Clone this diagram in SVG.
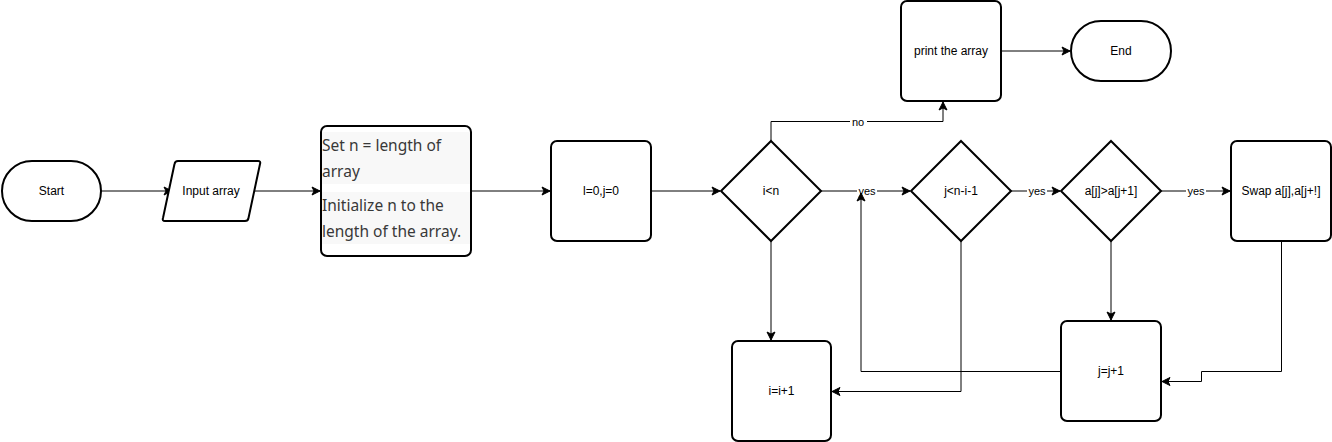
<svg xmlns="http://www.w3.org/2000/svg" width="1332" height="442" viewBox="0 0 1332 442">
<style>
.n{fill:#fff;stroke:#000;stroke-width:2}
.t{font-family:"Liberation Sans",Arial,sans-serif;font-size:12px;fill:#000;text-anchor:middle;dominant-baseline:central}
.e{fill:none;stroke:#000;stroke-width:1}
.lb{font-family:"Liberation Sans",Arial,sans-serif;font-size:11px;fill:#000;text-anchor:middle;dominant-baseline:central}
.lbg{fill:#fff}
.rt{font-family:"Noto Sans","Segoe UI",sans-serif;font-size:15.5px;fill:#383838}
.hl{fill:#f8f8f8}
</style>
<defs>
<marker id="a" markerUnits="userSpaceOnUse" markerWidth="10" markerHeight="10" viewBox="0 0 10 10" refX="9" refY="5" orient="auto">
<path d="M1,1 L9,5 L1,9 L3,5 z" fill="#000" stroke="#000" stroke-width="1"/>
</marker>
</defs>
<rect width="1332" height="442" fill="#fff"/>
<g id="connectors">
<path class="e" d="M101,191 H172" marker-end="url(#a)"/>
<path class="e" d="M247,191 H320" marker-end="url(#a)"/>
<path class="e" d="M471,191 H550" marker-end="url(#a)"/>
<path class="e" d="M651,191 H720" marker-end="url(#a)"/>
<path class="e" d="M771,141 V121.5 H943 V102" marker-end="url(#a)"/>
<path class="e" d="M1001,51 H1070" marker-end="url(#a)"/>
<path class="e" d="M821,191 H910" marker-end="url(#a)"/>
<path class="e" d="M1011,191 H1060" marker-end="url(#a)"/>
<path class="e" d="M1161,191 H1230" marker-end="url(#a)"/>
<path class="e" d="M771,241 V340" marker-end="url(#a)"/>
<path class="e" d="M961,241 V391.5 H832" marker-end="url(#a)"/>
<path class="e" d="M1111,241 V320" marker-end="url(#a)"/>
<path class="e" d="M1281.5,241 V371.5 H1201.5 V381.5 H1162" marker-end="url(#a)"/>
<rect class="lbg" x="850" y="115" width="17" height="13"/>
<text class="lb" x="858" y="121.5">no</text>
<rect class="lbg" x="857" y="185" width="20" height="13"/>
<text class="lb" x="867" y="191">yes</text>
<rect class="lbg" x="1027" y="185" width="20" height="13"/>
<text class="lb" x="1037" y="191">yes</text>
<rect class="lbg" x="1186" y="185" width="20" height="13"/>
<text class="lb" x="1196" y="191">yes</text>
<path class="e" d="M1061,371.5 H861 V193" marker-end="url(#a)"/>
</g>
<g id="start">
<rect class="n" x="2" y="161" width="99" height="60" rx="30" ry="30"/>
<text class="t" x="51.5" y="191">Start</text>
</g>
<g id="input">
<path class="n" d="M178,161 H258 Q261,161 260,164 L248.5,218 Q248,221 245,221 H165 Q162,221 163,218 L174.5,164 Q175,161 178,161 z"/>
<text class="t" x="211" y="191">Input array</text>
</g>
<g id="setn">
<rect class="n" x="321" y="126" width="150" height="130" rx="6" ry="6"/>
<rect class="hl" x="322" y="132" width="148" height="52"/>
<rect class="hl" x="322" y="192" width="148" height="52"/>
<text class="rt" x="322" y="151">Set n = length of</text>
<text class="rt" x="322" y="177">array</text>
<text class="rt" x="322" y="211">Initialize n to the</text>
<text class="rt" x="322" y="237">length of the array.</text>
</g>
<g id="init">
<rect class="n" x="551" y="141" width="100" height="100" rx="6" ry="6"/>
<text class="t" x="601" y="191">l=0,j=0</text>
</g>
<g id="cond-i">
<path class="n" d="M771,141 L821,191 L771,241 L721,191 z"/>
<text class="t" x="771" y="191">i&lt;n</text>
</g>
<g id="print">
<rect class="n" x="901" y="1" width="100" height="100" rx="6" ry="6"/>
<text class="t" x="951" y="51">print the array</text>
</g>
<g id="end">
<rect class="n" x="1071" y="21" width="100" height="60" rx="30" ry="30"/>
<text class="t" x="1121" y="51">End</text>
</g>
<g id="cond-j">
<path class="n" d="M961,141 L1011,191 L961,241 L911,191 z"/>
<text class="t" x="961" y="191">j&lt;n-i-1</text>
</g>
<g id="cond-a">
<path class="n" d="M1111,141 L1161,191 L1111,241 L1061,191 z"/>
<text class="t" x="1111" y="191">a[j]&gt;a[j+1]</text>
</g>
<g id="swap">
<rect class="n" x="1231" y="141" width="100" height="100" rx="6" ry="6"/>
<text class="t" x="1281" y="191">Swap a[j],a[j+!]</text>
</g>
<g id="inc-j">
<rect class="n" x="1061" y="321" width="100" height="100" rx="6" ry="6"/>
<text class="t" x="1111" y="371">j=j+1</text>
</g>
<g id="inc-i">
<rect class="n" x="732" y="341" width="99" height="100" rx="6" ry="6"/>
<text class="t" x="781.5" y="391">i=i+1</text>
</g>
</svg>
